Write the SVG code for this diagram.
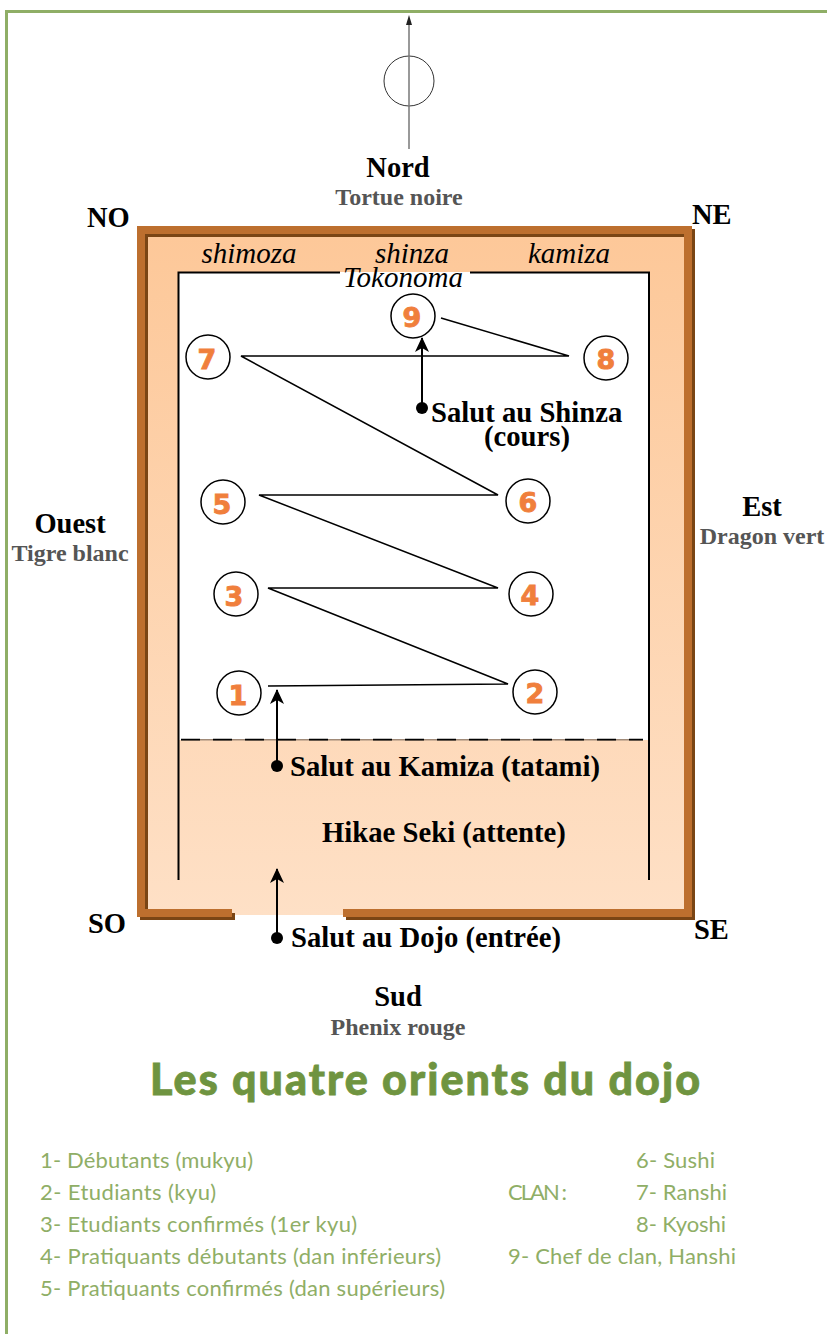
<svg xmlns="http://www.w3.org/2000/svg" width="827" height="1334" viewBox="0 0 827 1334">
<style>
.b{font-family:"Liberation Serif","Times New Roman",serif;font-weight:bold;fill:#000}
.h{font-size:28.500px}
.s{font-size:28.700px}
.g{font-family:"Liberation Serif","Times New Roman",serif;font-weight:bold;fill:#555;font-size:24px}
.i{font-family:"Liberation Serif","Times New Roman",serif;font-style:italic;fill:#000;font-size:29px}
.n{font-family:"DejaVu Sans",sans-serif;font-weight:bold;fill:#f07f3c;stroke:#f07f3c;stroke-width:.9px;font-size:27px;text-anchor:middle}
.l{font-family:Lato,sans-serif;fill:#8fae66;font-size:22px}
.c{fill:#fff;stroke:#000;stroke-width:1.5}
.w{fill:#bd6f2e}
.d{fill:#7a4514}
.k{fill:none;stroke:#000;stroke-width:2}
</style>
<defs>
<linearGradient id="fl" x1="0" y1="0" x2="0" y2="1"><stop offset="0" stop-color="#fdc899"/><stop offset="1" stop-color="#fee0c6"/></linearGradient>
<marker id="ah" markerUnits="userSpaceOnUse" markerWidth="16" markerHeight="16" refX="14" refY="7" orient="auto"><path d="M0 0L15 7L0 14L4 7Z" fill="#000"/></marker>
</defs>
<rect width="827" height="1334" fill="#fff"/>
<path id="frame" d="M6.500 1334V11.500H827" fill="none" stroke="#8fae66" stroke-width="3"/>
<g id="compass">
<circle cx="409" cy="81" r="25" fill="none" stroke="#333" stroke-width="1"/>
<path d="M409 149V22" stroke="#777" stroke-width="1.500"/>
<path d="M409 15L412 25H406Z" fill="#222"/>
</g>
<g id="dojo">
<rect x="148" y="237" width="536" height="678" fill="url(#fl)"/>
<path class="w" d="M137 226H692V917H343V909H684V234H145V909H232V917H137Z"/>
<path class="d" d="M145 234H684V237H148V909H145Z"/>
<path class="d" d="M692 229H695V920H346V917H692Z"/>
<path class="d" d="M232 913H235V920H140V917H232Z"/>
<rect x="178" y="272" width="471" height="468" fill="#fff"/>
<path class="k" d="M178.500 880V272.500H340M470 272.500H649V880"/>
<path d="M181 739.700H643" stroke="#a08a78" stroke-width="1.500"/>
<path d="M181 739.700H643" stroke="#000" stroke-width="1.800" stroke-dasharray="19 13"/>
</g>
<g id="connectors">
<path d="M441 318L569 356H241L498 495H259L498 588H268L508 684L268 686" fill="none" stroke="#000" stroke-width="1.500" stroke-linejoin="miter"/>
<path d="M422 408V338" class="k" marker-end="url(#ah)"/>
<path d="M277 766V690" class="k" marker-end="url(#ah)"/>
<path d="M277 938V869" class="k" marker-end="url(#ah)"/>
<circle cx="422" cy="408" r="6"/>
<circle cx="277" cy="766" r="6"/>
<circle cx="277" cy="938" r="6"/>
</g>
<g id="n1"><circle class="c" cx="239" cy="693" r="22"/><text class="n" x="238" y="705">1</text></g>
<g id="n2"><circle class="c" cx="535" cy="692" r="22"/><text class="n" x="535" y="703">2</text></g>
<g id="n3"><circle class="c" cx="236" cy="594" r="22"/><text class="n" x="234" y="606">3</text></g>
<g id="n4"><circle class="c" cx="531" cy="594" r="22"/><text class="n" x="530" y="605">4</text></g>
<g id="n5"><circle class="c" cx="223" cy="502" r="22"/><text class="n" x="222" y="514">5</text></g>
<g id="n6"><circle class="c" cx="528" cy="501" r="22"/><text class="n" x="528" y="512">6</text></g>
<g id="n7"><circle class="c" cx="208" cy="357" r="22"/><text class="n" x="207" y="369">7</text></g>
<g id="n8"><circle class="c" cx="606" cy="358" r="22"/><text class="n" x="606" y="369">8</text></g>
<g id="n9"><circle class="c" cx="413" cy="316" r="22"/><text class="n" x="412" y="327">9</text></g>
<g id="labels">
<text class="b h" x="398" y="177" text-anchor="middle">Nord</text>
<text class="g" x="399" y="205" text-anchor="middle">Tortue noire</text>
<text class="b h" x="87" y="227">NO</text>
<text class="b h" x="692" y="224">NE</text>
<text class="b h" x="88" y="933">SO</text>
<text class="b h" x="694" y="939">SE</text>
<text class="b h" x="70" y="533" text-anchor="middle">Ouest</text>
<text class="g" x="70" y="561" text-anchor="middle">Tigre blanc</text>
<text class="b h" x="762" y="516" text-anchor="middle">Est</text>
<text class="g" x="762" y="544" text-anchor="middle">Dragon vert</text>
<text class="b h" x="398" y="1006" text-anchor="middle">Sud</text>
<text class="g" x="398" y="1035" text-anchor="middle">Phenix rouge</text>
<text class="i" x="249" y="263" text-anchor="middle">shimoza</text>
<text class="i" x="412" y="263" text-anchor="middle">shinza</text>
<text class="i" x="569" y="263" text-anchor="middle">kamiza</text>
<text class="i" x="403" y="287" text-anchor="middle">Tokonoma</text>
<text class="b s" x="431" y="422">Salut au Shinza</text>
<text class="b s" x="527" y="446" text-anchor="middle">(cours)</text>
<text class="b s" x="290" y="776">Salut au Kamiza (tatami)</text>
<text class="b s" x="322" y="842">Hikae Seki (attente)</text>
<text class="b s" x="291" y="947">Salut au Dojo (entrée)</text>
</g>
<text id="title" x="150" y="1095" font-family="Lato,sans-serif" font-weight="900" font-size="43" fill="#6f9440" stroke="#6f9440" stroke-width=".8" textLength="550" lengthAdjust="spacing">Les quatre orients du dojo</text>
<g id="legend">
<text class="l" x="40" y="1168" textLength="213" lengthAdjust="spacing">1- Débutants (mukyu)</text>
<text class="l" x="40" y="1200" textLength="176" lengthAdjust="spacing">2- Etudiants (kyu)</text>
<text class="l" x="40" y="1232" textLength="317" lengthAdjust="spacing">3- Etudiants confirmés (1er kyu)</text>
<text class="l" x="40" y="1264" textLength="401" lengthAdjust="spacing">4- Pratiquants débutants (dan inférieurs)</text>
<text class="l" x="40" y="1296" textLength="405" lengthAdjust="spacing">5- Pratiquants confirmés (dan supérieurs)</text>
<text class="l" x="636" y="1168" textLength="79" lengthAdjust="spacing">6- Sushi</text>
<text class="l" x="508" y="1200" textLength="59" lengthAdjust="spacing">CLAN :</text>
<text class="l" x="636" y="1200" textLength="91" lengthAdjust="spacing">7- Ranshi</text>
<text class="l" x="636" y="1232" textLength="90" lengthAdjust="spacing">8- Kyoshi</text>
<text class="l" x="508" y="1264" textLength="228" lengthAdjust="spacing">9- Chef de clan, Hanshi</text>
</g>
</svg>
